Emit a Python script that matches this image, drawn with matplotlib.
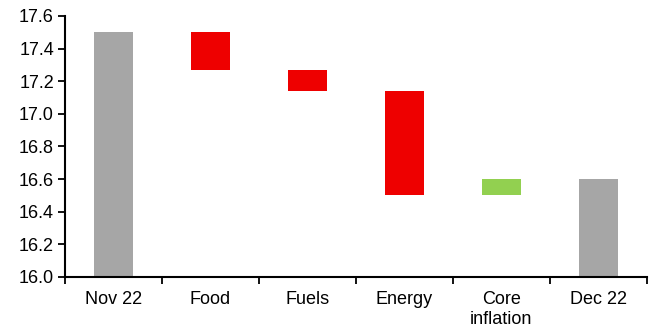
import numpy as np
import matplotlib.pyplot as plt

plt.rcParams['font.family'] = ['Liberation Sans', 'DejaVu Sans']

labels = ['Nov 22', 'Food', 'Fuels', 'Energy', 'Core\ninflation', 'Dec 22']
start = 17.5
changes = [-0.23, -0.13, -0.64, 0.10]
end = 16.6

grey = '#A6A6A6'
red = '#EE0000'
green = '#92D050'

# floating bars: bottom = lower of the two running levels
levels = np.concatenate([[start], start + np.cumsum(changes)])
bottoms = [16.0]
heights = [start - 16.0]
colors = [grey]
for i, c in enumerate(changes):
    bottoms.append(min(levels[i], levels[i + 1]))
    heights.append(abs(c))
    colors.append(green if c > 0 else red)
bottoms.append(16.0)
heights.append(end - 16.0)
colors.append(grey)

fig = plt.figure(figsize=(6.58, 3.32), dpi=100)
ax = fig.add_axes([0.0988, 0.166, 0.884, 0.786])

x = np.arange(len(labels))
ax.bar(x, heights, bottom=bottoms, width=0.4, color=colors)

ax.set_ylim(16.0, 17.6)
ax.set_yticks(np.arange(16.0, 17.61, 0.2))
ax.set_yticklabels(['%.1f' % v for v in np.arange(16.0, 17.61, 0.2)])
ax.set_xlim(-0.5, len(labels) - 0.5)
ax.set_xticks(x)
ax.set_xticklabels(labels, linespacing=1.25)
ax.set_xticks(np.arange(-0.5, len(labels), 1.0), minor=True)

ax.tick_params(axis='x', which='major', length=0, labelsize=13, pad=10)
ax.tick_params(axis='x', which='minor', length=5, width=1.3, direction='out')
ax.tick_params(axis='y', length=5, width=1.3, direction='out', labelsize=13, pad=3)

for s in ['top', 'right']:
    ax.spines[s].set_visible(False)
for s in ['left', 'bottom']:
    ax.spines[s].set_linewidth(1.5)

fig.savefig('out.png', dpi=100)
